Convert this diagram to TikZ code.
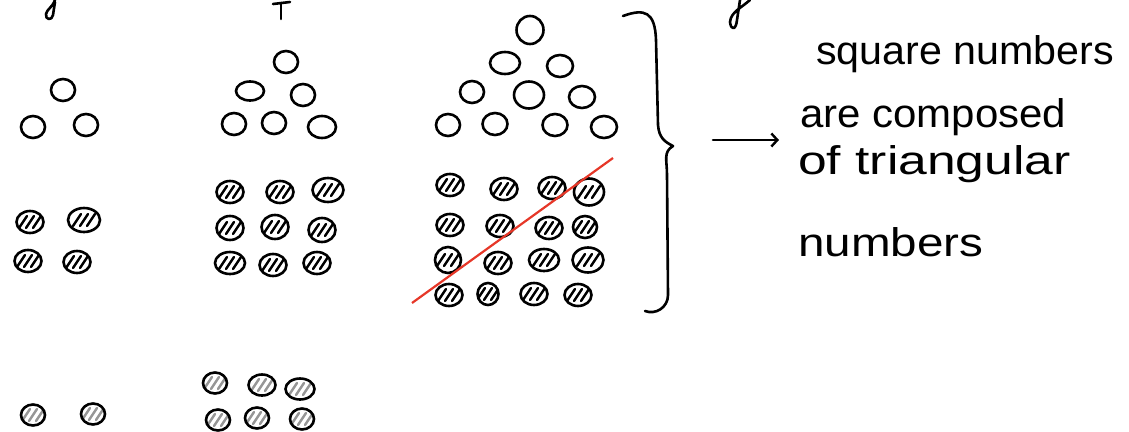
\documentclass[tikz,border=0pt]{standalone}
\usepackage{fontspec}
\setmainfont{Liberation Sans}
\usetikzlibrary{shapes.geometric,arrows.meta}
\definecolor{redline}{RGB}{230,55,40}
\definecolor{hatchgray}{RGB}{150,150,150}
\tikzset{
  pen/.style={line width=2.6pt, line cap=round, line join=round},
  odot/.style={shape=ellipse, draw, line width=2.6pt, minimum width=24pt, minimum height=22pt, inner sep=0pt},
  hdot/.style={shape=ellipse, draw, line width=2.6pt, minimum width=27pt, minimum height=22pt, inner sep=0pt,
    path picture={\foreach \k in {-7,0,7}
      \draw[line width=2.4pt, line cap=round, #1] ([shift={(\k pt-4pt,-6pt)}]path picture bounding box.center) -- ++(8pt,12pt);}},
  hdot/.default=black,
  gdot/.style={hdot=hatchgray, minimum width=24pt, minimum height=21pt},
  handtext/.style={anchor=base west, inner sep=0pt, font=\fontsize{40}{44}\selectfont}
}
\begin{document}
\begin{tikzpicture}[x=1pt,y=-1pt]
\useasboundingbox (0,0) rectangle (1129,431);
% cut-off strokes at the top
\draw[pen] (55,0) .. controls (52,8) and (47,9) .. (46,14) .. controls (45,20) and (52,21) .. (53,15) -- (55,2);
\draw[pen] (273,4) -- (290,2);
\draw[pen] (281,3) -- (281,19);
\draw[pen] (750,0) .. controls (741,8) and (731,12) .. (730,22) .. controls (731,31) and (736,30) .. (737,20) -- (740,0);

% triangular numbers (hollow)
\node[odot] (a1) at (63,90) {};
\node[odot] (a2) at (33,127) {};
\node[odot] (a3) at (86,125) {};

\node[odot] (b1) at (286,62) {};
\node[odot, minimum width=28pt, minimum height=19pt] (b2) at (250,91) {};
\node[odot] (b3) at (303,95) {};
\node[odot] (b4) at (234,124) {};
\node[odot] (b5) at (274,123) {};
\node[odot, minimum width=28pt] (b6) at (322,127) {};

\node[odot, minimum height=28pt, minimum width=27pt] (c1) at (530,30) {};
\node[odot, minimum width=30pt] (c2) at (505,63) {};
\node[odot, minimum width=26pt] (c3) at (560,66) {};
\node[odot] (c4) at (472,92) {};
\node[odot, minimum width=30pt, minimum height=27pt] (c5) at (529,95) {};
\node[odot, minimum width=26pt] (c6) at (582,97) {};
\node[odot] (c7) at (448,125) {};
\node[odot, minimum width=25pt] (c8) at (495,124) {};
\node[odot, minimum width=25pt] (c9) at (555,125) {};
\node[odot, minimum width=26pt] (c10) at (604,127) {};

% square numbers (hatched)
\node[hdot] (d1) at (30,222) {};
\node[hdot, minimum width=32pt, minimum height=24pt] (d2) at (84,220) {};
\node[hdot] (d3) at (28,261) {};
\node[hdot] (d4) at (77,262) {};

\node[hdot] (e1) at (230,192) {};
\node[hdot] (e2) at (280,192) {};
\node[hdot, minimum width=31pt, minimum height=24pt] (e3) at (328,190) {};
\node[hdot, minimum height=24pt] (e4) at (230,228) {};
\node[hdot, minimum height=24pt] (e5) at (275,227) {};
\node[hdot, minimum height=24pt] (e6) at (322,230) {};
\node[hdot, minimum width=30pt] (e7) at (230,263) {};
\node[hdot] (e8) at (273,265) {};
\node[hdot] (e9) at (317,263) {};

\node[hdot] (f1) at (450,185) {};
\node[hdot] (f2) at (504,189) {};
\node[hdot] (f3) at (552,188) {};
\node[hdot, minimum width=30pt, minimum height=27pt] (f4) at (589,192) {};
\node[hdot] (f5) at (450,225) {};
\node[hdot] (f6) at (500,226) {};
\node[hdot] (f7) at (549,228) {};
\node[hdot, minimum width=24pt] (f8) at (585,227) {};
\node[hdot, minimum width=26pt, minimum height=26pt] (f9) at (448,260) {};
\node[hdot] (f10) at (498,263) {};
\node[hdot, minimum width=30pt] (f11) at (544,260) {};
\node[hdot, minimum width=31pt, minimum height=25pt] (f12) at (588,260) {};
\node[hdot] (f13) at (449,295) {};
\node[hdot, minimum width=21pt] (f14) at (488,294) {};
\node[hdot] (f15) at (534,294) {};
\node[hdot] (f16) at (578,295) {};

% red diagonal
\coordinate (r1) at (412,303);
\coordinate (r2) at (613,158);
\draw[redline, line width=2.2pt] (r1) -- (r2);

% grey hatched dots
\node[gdot] (g1) at (33,415) {};
\node[gdot] (g2) at (93,414) {};
\node[gdot] (g3) at (215,383) {};
\node[gdot, minimum width=27pt] (g4) at (262,385) {};
\node[gdot, minimum width=29pt] (g5) at (300,389) {};
\node[gdot] (g6) at (218,420) {};
\node[gdot] (g7) at (257,418) {};
\node[gdot] (g8) at (302,419) {};

% brace
\coordinate (br1) at (623,16);
\coordinate (brtip) at (673,146);
\coordinate (br2) at (645,311);
\draw[pen] (br1) .. controls (645,8) and (655,12) .. (656,40) -- (658,125)
  .. controls (659,138) and (665,142) .. (brtip)
  .. controls (663,152) and (667,160) .. (667,175) -- (668,295)
  .. controls (668,308) and (655,315) .. (br2);

% arrow
\coordinate (ar1) at (713,140);
\coordinate (ar2) at (779,140);
\draw[pen, -{Straight Barb[length=6pt,width=13pt,line width=2.4pt]}] (ar1) -- (ar2);

% text
\node[handtext] (t1) at (816,64) {\scalebox{1.03}[1]{square numbers}};
\node[handtext] (t2) at (800,127) {\scalebox{1.05}[1]{are composed}};
\node[handtext] (t3) at (798,174) {\scalebox{1.29}[1]{of triangular}};
\node[handtext] (t4) at (798,256) {\scalebox{1.19}[1]{numbers}};
\end{tikzpicture}
\end{document}
